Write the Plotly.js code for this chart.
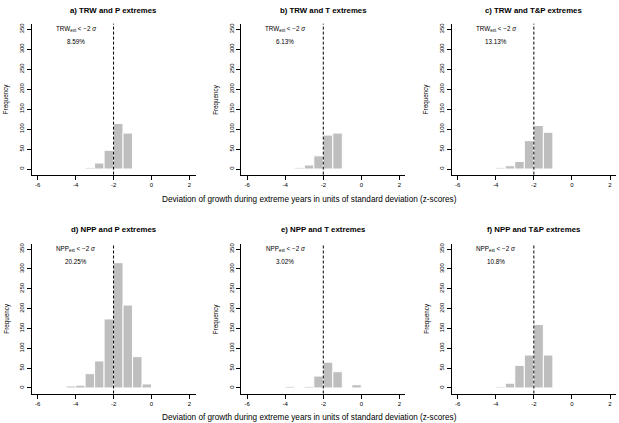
<!DOCTYPE html>
<html>
<head>
<meta charset="utf-8">
<script src="https://cdn.plot.ly/plotly-3.0.1.min.js"></script>
<style>
html,body{margin:0;padding:0;background:#fff;}
#chart{width:619px;height:423px;}
</style>
</head>
<body>
<div id="chart"></div>
<script>
// ---- data ----
const binCenters = [-4.25, -3.75, -3.25, -2.75, -2.25, -1.75, -1.25, -0.75, -0.25];
const binWidth = 0.5;
const countsA = [0, 0, 3, 15, 47, 114, 90, 0, 0];
const countsB = [0, 0, 3, 10, 33, 85, 90, 0, 0];
const countsC = [0, 3, 8, 19, 71, 109, 92, 0, 0];
const countsD = [5, 7, 36, 68, 174, 316, 209, 79, 10];
const countsE = [0, 4, 0, 4, 30, 65, 41, 0, 8];
const countsF = [0, 3, 12, 57, 83, 160, 83, 0, 0];
const panelTitles = ["a) TRW and P extremes", "b) TRW and T extremes", "c) TRW and T&P extremes",
                     "d) NPP and P extremes", "e) NPP and T extremes", "f) NPP and T&P extremes"];
const varNames = ["TRW", "TRW", "TRW", "NPP", "NPP", "NPP"];
const percentLabels = ["8.59%", "6.13%", "13.13%", "20.25%", "3.02%", "10.8%"];
const xTickVals = [-6, -4, -2, 0, 2];
const xTickLabels = ["-6", "-4", "-2", "0", "2"];
const yTickVals = [0, 50, 100, 150, 200, 250, 300, 350];
const yTickLabels = ["0", "50", "100", "150", "200", "250", "300", "350"];
const threshold = -2;
const xLabel = "Deviation of growth during extreme years in units of standard deviation (z-scores)";

// ---- layout geometry (pixels) ----
const W = 619, H = 423;
const colPx = [[31.6, 195.5], [241.2, 405.4], [451.6, 616.1]];
const rowPx = [[23.7, 174.6], [243.6, 393.5]];
const xRange = [-6.32, 2.32];
const yRange = [-14, 364];
const allCounts = [countsA, countsB, countsC, countsD, countsE, countsF];

const font = "Liberation Sans, Arial, Helvetica, sans-serif";
const traces = [];
const layout = {
  width: W, height: H,
  margin: {l: 0, r: 0, t: 0, b: 0},
  paper_bgcolor: "#fff", plot_bgcolor: "rgba(0,0,0,0)",
  showlegend: false,
  font: {family: font, color: "#000"},
  shapes: [], annotations: []
};

for (let i = 0; i < 6; i++) {
  const r = Math.floor(i / 3), c = i % 3;
  const n = i + 1;
  const xa = n === 1 ? "x" : "x" + n;
  const ya = n === 1 ? "y" : "y" + n;
  const xk = n === 1 ? "xaxis" : "xaxis" + n;
  const yk = n === 1 ? "yaxis" : "yaxis" + n;
  traces.push({
    type: "bar", x: binCenters, y: allCounts[i], width: binWidth,
    xaxis: xa, yaxis: ya,
    marker: {color: "#bebebe", line: {color: "#ffffff", width: 1}},
    hoverinfo: "x+y"
  });
  const xd = [colPx[c][0] / W, colPx[c][1] / W];
  const yd = [1 - rowPx[r][1] / H, 1 - rowPx[r][0] / H];
  layout[xk] = {
    domain: xd, range: xRange, anchor: ya,
    showgrid: false, zeroline: false,
    showline: true, linecolor: "#000", linewidth: 1,
    ticks: "outside", ticklen: 4, tickwidth: 1, tickcolor: "#000",
    tickmode: "array", tickvals: xTickVals, ticktext: xTickLabels,
    tickfont: {size: 6, family: font, color: "#000"}, fixedrange: true
  };
  layout[yk] = {
    domain: yd, range: yRange, anchor: xa,
    showgrid: false, zeroline: false,
    showline: true, linecolor: "#000", linewidth: 1,
    ticks: "outside", ticklen: 4, tickwidth: 1, tickcolor: "#000",
    tickmode: "array", tickvals: yTickVals, ticktext: yTickLabels, tickangle: -90,
    tickfont: {size: 6, family: font, color: "#000"}, fixedrange: true
  };
  // threshold line
  layout.shapes.push({type: "line", xref: xa, yref: ya + " domain",
    x0: threshold, x1: threshold, y0: 0, y1: 1,
    line: {color: "#000", width: 1, dash: "3px,2px"}});
  // panel title
  layout.annotations.push({xref: xa, yref: "paper", x: -2, y: 1 - (r === 0 ? 10 : 229) / H,
    text: "<b>" + panelTitles[i] + "</b>", showarrow: false, xanchor: "center", yanchor: "middle",
    font: {size: 7.8, family: font, color: "#000"}});
  // Frequency label
  layout.annotations.push({xref: "paper", yref: ya, x: (colPx[c][0] - 25.5) / W, y: 175,
    text: "Frequency", textangle: -90, showarrow: false, xanchor: "center", yanchor: "middle",
    font: {size: 6.3, family: font, color: "#000"}});
  // threshold annotation
  layout.annotations.push({xref: xa, yref: ya, x: -4, y: 350,
    text: varNames[i] + "<sub>ext</sub> &lt; −2 <i>σ</i>", showarrow: false, xanchor: "center", yanchor: "middle",
    font: {size: 6.3, family: font, color: "#000"}});
  layout.annotations.push({xref: xa, yref: ya, x: -4, y: 320,
    text: percentLabels[i], showarrow: false, xanchor: "center", yanchor: "middle",
    font: {size: 6.3, family: font, color: "#000"}});
}
// shared x labels
[199, 417].forEach(function (py) {
  layout.annotations.push({xref: "paper", yref: "paper", x: 0.5, y: 1 - py / H,
    text: xLabel, showarrow: false, xanchor: "center", yanchor: "middle",
    font: {size: 8.2, family: font, color: "#000"}});
});

Plotly.newPlot("chart", traces, layout, {displayModeBar: false, staticPlot: true});
</script>
</body>
</html>
